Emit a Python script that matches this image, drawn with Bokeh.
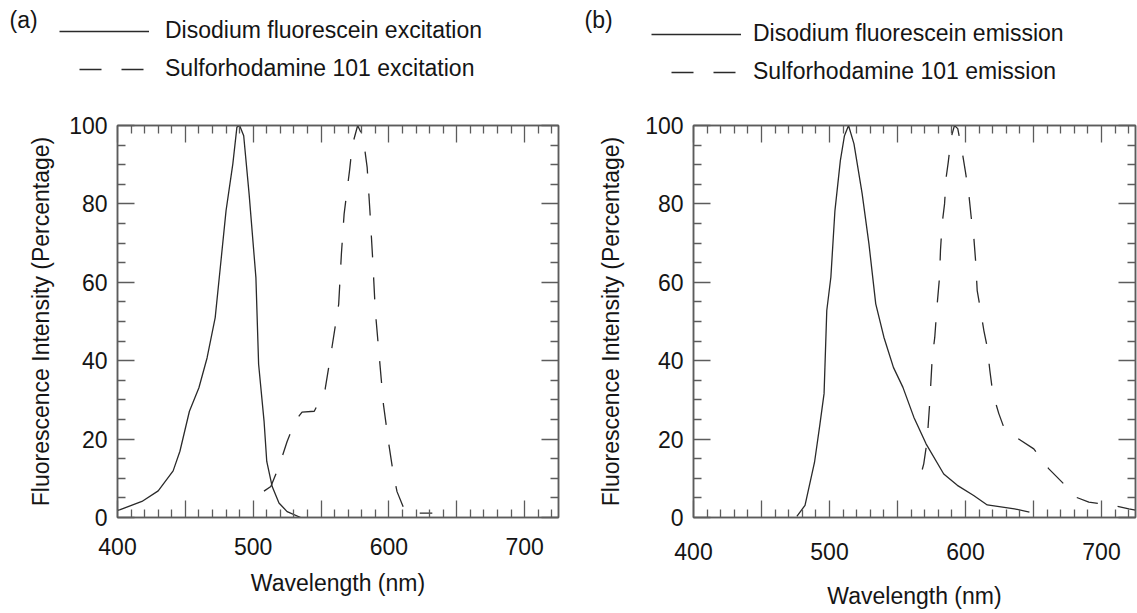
from bokeh.plotting import figure
from bokeh.layouts import row, column
from bokeh.models import FixedTicker, LinearAxis, Legend, LegendItem, Label, Range1d
from bokeh.embed import file_html
from bokeh.resources import INLINE

# ---------------- data ----------------
# Panel (a): excitation spectra
exc_fl_nm = [400, 402, 418, 430, 441, 446, 453, 460, 466, 472, 476, 480, 485, 488, 490,
             493, 497, 502, 504, 508, 510, 514, 519, 525, 535]
exc_fl_pct = [1.8, 2.0, 4.1, 6.8, 11.9, 16.9, 27.1, 33.1, 40.7, 51.0, 64.6, 78.3, 90.2, 99.6, 100,
              97.4, 82.5, 61.2, 39.1, 24.6, 14.3, 7.9, 3.7, 1.5, 0]
exc_sr_nm = [495, 504, 513, 519, 525, 531, 536, 545, 553, 558, 563, 565, 567, 571, 573, 577,
             581, 584, 586, 588, 590, 593, 596, 600, 603, 606, 612, 618, 632]
exc_sr_pct = [4.3, 5.8, 7.9, 13.0, 19.4, 24.6, 26.9, 27.1, 32.7, 43.3, 54.4, 67.2, 77.4, 88.5, 94.9, 100,
              97.0, 89.3, 78.3, 66.3, 52.7, 40.7, 28.8, 18.6, 11.8, 6.6, 1.5, 1.1, 1.1]

# Panel (b): emission spectra
em_fl_nm = [476, 482, 486, 489, 493, 496, 498, 501, 504, 508, 511, 514, 518, 524, 529, 534,
            540, 547, 554, 562, 571, 584, 594, 606, 616, 636, 647]
em_fl_pct = [0.3, 3.1, 9.4, 14.1, 23.9, 31.6, 52.8, 61.3, 78.3, 91.1, 97.4, 100, 95.3, 82.6, 69.8, 54.5,
             46.0, 38.3, 33.2, 25.6, 18.8, 11.1, 8.2, 5.6, 3.2, 2.2, 1.4]
em_sr_nm = [564.5, 569.3, 571.8, 573.8, 575.5, 577.4, 579.2, 580.9, 581.6, 582.8, 584.6, 585.8,
            587.3, 589.5, 591.9, 594.3, 597.6, 600.0, 602.4, 604.2, 606.1, 607.4, 608.6, 610.3,
            613.5, 616.0, 617.9, 620.1, 624.5, 628.2, 633.1, 650.2, 661.3, 674.8, 679.6, 690.7,
            707.9, 720.1, 725]
em_sr_pct = [7.3, 13.7, 19.6, 29.8, 40.5, 46.0, 54.5, 61.3, 68.1, 74.9, 80.0, 86.8,
             90.6, 97.0, 100, 99.2, 93.2, 88.1, 82.6, 76.6, 71.5, 65.6, 57.9, 54.5,
             47.7, 43.4, 37.5, 31.6, 26.5, 23.0, 21.4, 17.5, 12.4, 7.7, 5.4, 3.9,
             3.1, 2.2, 1.9]

x_major = [400, 450, 500, 550, 600, 650, 700]
x_labels = {400: "400", 450: "", 500: "500", 550: "", 600: "600", 650: "", 700: "700"}
x_minor = [410, 420, 430, 440, 460, 470, 480, 490, 510, 520, 530, 540, 560, 570, 580, 590,
           610, 620, 630, 640, 660, 670, 680, 690, 710, 720]
y_major = [0, 20, 40, 60, 80, 100]
y_minor = [5, 10, 15, 25, 30, 35, 45, 50, 55, 65, 70, 75, 85, 90, 95]

# ---------------- style ----------------
FONT = "Liberation Sans"
TXT = "#151515"
AX = "#5c5c5c"
LINE = "#2a2a2a"
HEAD_H = 100
PLOT_H = 513
FS = "23px"
DASH = "22 20"
NAN = float("nan")


def style_axis(ax, ticks, minor, labels, show_labels):
    ax.ticker = FixedTicker(ticks=ticks, minor_ticks=minor)
    ax.major_tick_in = 17
    ax.major_tick_out = 0
    ax.minor_tick_in = 8
    ax.minor_tick_out = 0
    ax.axis_line_color = AX
    ax.axis_line_width = 1.5
    ax.major_tick_line_color = AX
    ax.major_tick_line_width = 1.3
    ax.minor_tick_line_color = AX
    ax.minor_tick_line_width = 1.3
    if show_labels:
        if labels:
            ax.major_label_overrides = labels
        ax.major_label_text_font = FONT
        ax.major_label_text_font_size = FS
        ax.major_label_text_color = TXT
        ax.axis_label_text_font = FONT
        ax.axis_label_text_font_size = FS
        ax.axis_label_text_font_style = "normal"
        ax.axis_label_text_color = TXT
    else:
        ax.major_label_overrides = {t: "" for t in ticks}
        ax.major_label_text_font_size = "1px"
        ax.major_label_standoff = 0


def header(tag, fl_label, sr_label, width, leg_xy, tag_xy, standoff_lbl):
    h = figure(width=width, height=HEAD_H, x_range=Range1d(0, width), y_range=Range1d(0, HEAD_H),
               output_backend="svg", toolbar_location=None,
               x_axis_location=None, y_axis_location=None, min_border=0)
    h.xgrid.visible = False
    h.ygrid.visible = False
    h.outline_line_color = None
    # legend proxies (no visible data of their own)
    g1 = h.line(x=[NAN, NAN], y=[NAN, NAN], line_color=LINE, line_width=1.3)
    g2 = h.line(x=[NAN, NAN], y=[NAN, NAN], line_color=LINE, line_width=1.3,
                line_dash=DASH, line_dash_offset=22)
    legend = Legend(items=[LegendItem(label=fl_label, renderers=[g1]),
                           LegendItem(label=sr_label, renderers=[g2])],
                    location=leg_xy, orientation="vertical",
                    glyph_width=90, glyph_height=26, label_height=26,
                    label_standoff=standoff_lbl, spacing=11, padding=0, margin=0,
                    border_line_color=None, background_fill_alpha=0,
                    label_text_font=FONT, label_text_font_size=FS,
                    label_text_color=TXT)
    h.add_layout(legend)
    h.add_layout(Label(x=tag_xy[0], y=tag_xy[1], x_units="screen", y_units="screen",
                       text=tag, text_font=FONT, text_font_size=FS,
                       text_color=TXT, text_baseline="middle"))
    return h


def panel(fl_nm, fl_pct, sr_nm, sr_pct, width, bl, br,
          xl_standoff, xt_standoff, yt_standoff):
    p = figure(width=width, height=PLOT_H, x_range=Range1d(400, 725), y_range=Range1d(0, 100),
               output_backend="svg", toolbar_location=None,
               min_border_left=bl, min_border_right=br, min_border_top=25,
               min_border_bottom=96)
    p.xgrid.visible = False
    p.ygrid.visible = False
    p.outline_line_color = AX
    p.outline_line_width = 1.5

    p.line(fl_nm, fl_pct, line_color=LINE, line_width=1.3)
    p.line(sr_nm, sr_pct, line_color=LINE, line_width=1.3,
           line_dash=DASH, line_dash_offset=22)

    style_axis(p.xaxis[0], x_major, x_minor, x_labels, True)
    style_axis(p.yaxis[0], y_major, y_minor, None, True)
    p.xaxis[0].axis_label = "Wavelength (nm)"
    p.yaxis[0].axis_label = "Fluorescence Intensity (Percentage)"
    p.xaxis[0].major_label_standoff = xl_standoff
    p.xaxis[0].axis_label_standoff = xt_standoff
    p.yaxis[0].major_label_standoff = 10
    p.yaxis[0].axis_label_standoff = yt_standoff

    top = LinearAxis()
    style_axis(top, x_major, x_minor, None, False)
    p.add_layout(top, "above")
    right = LinearAxis()
    style_axis(right, y_major, y_minor, None, False)
    p.add_layout(right, "right")
    return p


ha = header("(a)", "Disodium fluorescein excitation", "Sulforhodamine 101 excitation",
            width=575, leg_xy=(59, 18), tag_xy=(9, 81), standoff_lbl=16)
hb = header("(b)", "Disodium fluorescein emission", "Sulforhodamine 101 emission",
            width=562, leg_xy=(76, 15), tag_xy=(9, 81), standoff_lbl=12)
pa = panel(exc_fl_nm, exc_fl_pct, exc_sr_nm, exc_sr_pct,
           width=575, bl=117, br=17, xl_standoff=20, xt_standoff=12, yt_standoff=12)
pb = panel(em_fl_nm, em_fl_pct, em_sr_nm, em_sr_pct,
           width=562, bl=118, br=2, xl_standoff=25, xt_standoff=20, yt_standoff=18)

layout = column(row(ha, hb, spacing=0), row(pa, pb, spacing=0), spacing=0)
open("out.html", "w").write(file_html(layout, INLINE))
